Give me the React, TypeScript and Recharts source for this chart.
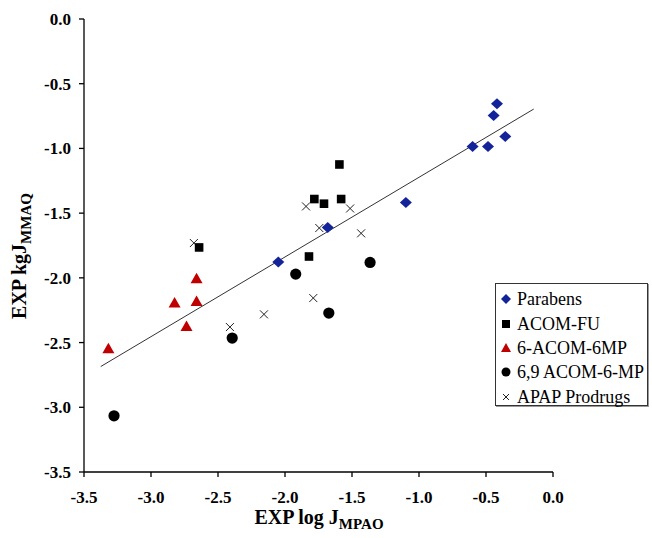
import { ScatterChart, Scatter, XAxis, YAxis } from 'recharts'

// values
const parabensX = [-0.418, -0.443, -0.356, -0.6, -0.485, -1.098, -1.681, -2.05]
const parabensY = [-0.655, -0.745, -0.907, -0.985, -0.985, -1.417, -1.611, -1.878]

const acomFuX = [-1.594, -1.781, -1.709, -1.581, -1.821, -2.641]
const acomFuY = [-1.124, -1.391, -1.427, -1.391, -1.835, -1.765]

const acom6mpX = [-2.66, -2.824, -2.66, -2.735, -3.318]
const acom6mpY = [-2.007, -2.195, -2.182, -2.376, -2.548]

const acom69X = [-1.92, -1.673, -2.394, -3.276, -1.365]
const acom69Y = [-1.971, -2.272, -2.465, -3.066, -1.881]

const apapX = [-2.68, -1.843, -1.744, -1.514, -1.432, -1.789, -2.411, -2.157]
const apapY = [-1.731, -1.448, -1.615, -1.464, -1.656, -2.156, -2.38, -2.282]

// fitted line endpoints
const trendX = [-3.375, -0.144]
const trendY = [-2.685, -0.696]

const ticks = [-3.5, -3.0, -2.5, -2.0, -1.5, -1.0, -0.5, 0.0]

const BLUE = '#13239a'
const RED = '#c00000'
const SERIF = '"Liberation Serif", "Times New Roman", serif'

const zip = (xs: number[], ys: number[]) => xs.map((x, i) => ({ x, y: ys[i] }))

const Diamond = ({ cx, cy }: any) => (
  <polygon points={`${cx},${cy - 5.5} ${cx + 6},${cy} ${cx},${cy + 5.5} ${cx - 6},${cy}`} fill={BLUE} />
)
const Square = ({ cx, cy }: any) => <rect x={cx - 4.3} y={cy - 4.3} width={8.6} height={8.6} fill="#000" />
const Triangle = ({ cx, cy }: any) => (
  <polygon points={`${cx},${cy - 6} ${cx + 6},${cy + 4.5} ${cx - 6},${cy + 4.5}`} fill={RED} />
)
const Dot = ({ cx, cy }: any) => <circle cx={cx} cy={cy} r={5.6} fill="#000" />
const Cross = ({ cx, cy }: any) => (
  <path d={`M${cx - 4},${cy - 4}L${cx + 4},${cy + 4}M${cx + 4},${cy - 4}L${cx - 4},${cy + 4}`} stroke="#222" strokeWidth={1} />
)

const legendItems = [
  { name: 'Parabens', icon: <polygon points="6,1 11,6 6,11 1,6" fill={BLUE} /> },
  { name: 'ACOM-FU', icon: <rect x={2} y={2} width={8} height={8} fill="#000" /> },
  { name: '6-ACOM-6MP', icon: <polygon points="6,1 11,10 1,10" fill={RED} /> },
  { name: '6,9 ACOM-6-MP', icon: <circle cx={6} cy={6} r={4.5} fill="#000" /> },
  { name: 'APAP Prodrugs', icon: <path d="M3,3L9,9M9,3L3,9" stroke="#222" strokeWidth={1} /> },
]

const tickStyle = { fontFamily: SERIF, fontWeight: 700, fontSize: 17, fill: '#000' }

export default function App() {
  return (
    <div style={{ position: 'absolute', left: 0, top: 0, width: 652, height: 538, background: '#fff', fontFamily: SERIF }}>
      <ScatterChart width={652} height={538} margin={{ top: 19, right: 99, bottom: 0, left: 24 }}>
        <XAxis
          type="number"
          dataKey="x"
          domain={[-3.5, 0]}
          ticks={ticks}
          tickFormatter={(v: number) => v.toFixed(1)}
          height={66}
          tickSize={5}
          tickMargin={14}
          tick={tickStyle}
          axisLine={{ stroke: '#000', strokeWidth: 1.3 }}
          tickLine={{ stroke: '#000', strokeWidth: 1.3 }}
        />
        <YAxis
          type="number"
          dataKey="y"
          domain={[-3.5, 0]}
          ticks={ticks}
          tickFormatter={(v: number) => v.toFixed(1)}
          width={60}
          tickSize={5}
          tickMargin={8}
          tick={tickStyle}
          axisLine={{ stroke: '#000', strokeWidth: 1.3 }}
          tickLine={{ stroke: '#000', strokeWidth: 1.3 }}
        />
        <Scatter data={zip(trendX, trendY)} line={{ stroke: '#333', strokeWidth: 1 }} shape={() => <g />} isAnimationActive={false} />
        <Scatter data={zip(apapX, apapY)} shape={Cross} isAnimationActive={false} />
        <Scatter data={zip(acomFuX, acomFuY)} shape={Square} isAnimationActive={false} />
        <Scatter data={zip(acom6mpX, acom6mpY)} shape={Triangle} isAnimationActive={false} />
        <Scatter data={zip(acom69X, acom69Y)} shape={Dot} isAnimationActive={false} />
        <Scatter data={zip(parabensX, parabensY)} shape={Diamond} isAnimationActive={false} />
      </ScatterChart>

      {/* legend box */}
      <div
        style={{
          position: 'absolute',
          left: 495,
          top: 283,
          width: 153,
          height: 123,
          border: '1px solid #333',
          boxShadow: '1px 1px 0 #999',
          boxSizing: 'border-box',
          paddingTop: 3,
        }}
      >
        {legendItems.map(item => (
          <div key={item.name} style={{ display: 'flex', alignItems: 'center', height: 24.4, fontSize: 18, lineHeight: '24px', whiteSpace: 'nowrap' }}>
            <svg width={12} height={12} style={{ marginLeft: 4, marginRight: 5, flexShrink: 0 }}>
              {item.icon}
            </svg>
            <span>{item.name}</span>
          </div>
        ))}
      </div>

      {/* axis titles */}
      <div style={{ position: 'absolute', left: 319, top: 519, transform: 'translate(-50%, -50%)', fontWeight: 700, fontSize: 20, whiteSpace: 'nowrap' }}>
        EXP log J<sub style={{ fontSize: 15 }}>MPAO</sub>
      </div>
      <div
        style={{
          position: 'absolute',
          left: 21,
          top: 256,
          transform: 'translate(-50%, -50%) rotate(-90deg)',
          fontWeight: 700,
          fontSize: 20,
          whiteSpace: 'nowrap',
        }}
      >
        EXP kgJ<sub style={{ fontSize: 15 }}>MMAQ</sub>
      </div>
    </div>
  )
}
